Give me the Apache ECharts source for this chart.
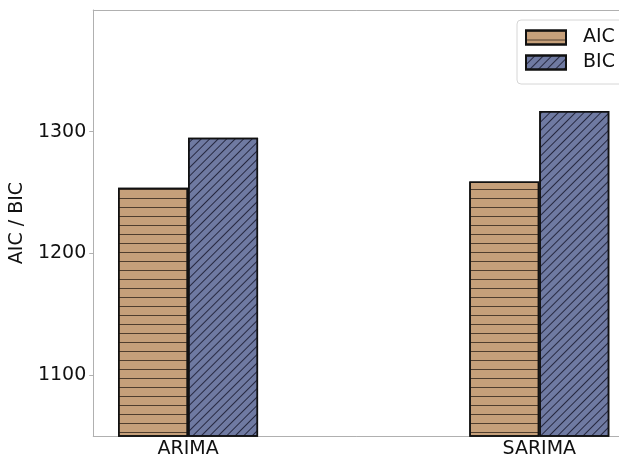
<!DOCTYPE html>
<html>
<head>
<meta charset="utf-8">
<script src="https://cdn.jsdelivr.net/npm/echarts@6/dist/echarts.min.js"></script>
<style>
  html, body { margin: 0; padding: 0; background: #fff; }
  #main { width: 619px; height: 459px; }
</style>
</head>
<body>
<div id="main"></div>
<script>
// data
var models = ['ARIMA', 'SARIMA'];
var aic = [1254, 1259];
var bic = [1295, 1317];
var yTicks = [1100, 1200, 1300];

var chart = echarts.init(document.getElementById('main'));
var font = 'DejaVu Sans';
var spine = '#b0b0b0';

chart.setOption({
    animation: false,
    textStyle: { fontFamily: font },
    grid: { left: 92, top: 10, bottom: 22, right: 0 },
    legend: {
        left: 517, top: 20,
        orient: 'vertical',
        icon: 'rect',
        itemWidth: 40, itemHeight: 14, itemGap: 6,
        padding: [8, 60, 12, 8],
        backgroundColor: '#fff',
        borderColor: '#d6d6d6', borderWidth: 1, borderRadius: 4,
        textStyle: { fontSize: 19, color: '#111', fontFamily: font, padding: [0, 0, 0, 12] },
        data: ['AIC', 'BIC']
    },
    xAxis: [
        {
            type: 'value', min: -0.27, max: 1.227,
            splitLine: { show: false },
            axisLine: { show: true, onZero: false, lineStyle: { color: spine } },
            axisTick: { show: false },
            axisLabel: {
                customValues: [0, 1],
                formatter: function (v) { return models[Math.round(v)]; },
                fontSize: 19, color: '#111', margin: 4
            }
        },
        {
            // top spine only
            type: 'value', position: 'top', min: -0.27, max: 1.227,
            splitLine: { show: false },
            axisLine: { show: true, onZero: false, lineStyle: { color: spine } },
            axisTick: { show: false },
            axisLabel: { show: false }
        }
    ],
    yAxis: {
        type: 'value', min: 1050, max: 1400,
        name: 'AIC / BIC', nameLocation: 'middle', nameGap: 61,
        nameTextStyle: { fontSize: 19, color: '#111' },
        splitLine: { show: false },
        axisLine: { show: true, onZero: false, lineStyle: { color: spine } },
        axisTick: { show: true, customValues: yTicks, length: 4, lineStyle: { color: spine } },
        axisLabel: {
            customValues: yTicks, fontSize: 19, color: '#111', margin: 7,
            formatter: function (v) { return String(v); }
        }
    },
    series: [
        {
            name: 'AIC', type: 'bar', barWidth: 70, barGap: '0%',
            data: aic.map(function (v, i) { return [i, v]; }),
            itemStyle: {
                color: '#c6a07a', borderColor: '#111', borderWidth: 1.5,
                decal: {
                    symbol: 'rect', color: 'rgba(40,30,20,0.75)',
                    dashArrayX: [1, 0], dashArrayY: [1, 8], rotation: 0
                }
            }
        },
        {
            name: 'BIC', type: 'bar', barWidth: 70, barGap: '0%',
            data: bic.map(function (v, i) { return [i, v]; }),
            itemStyle: {
                color: '#6f7aa2', borderColor: '#111', borderWidth: 1.5,
                decal: {
                    symbol: 'rect', color: 'rgba(20,20,40,0.8)',
                    dashArrayX: [1, 0], dashArrayY: [1, 5], rotation: -Math.PI / 4
                }
            }
        }
    ]
});
</script>
</body>
</html>
